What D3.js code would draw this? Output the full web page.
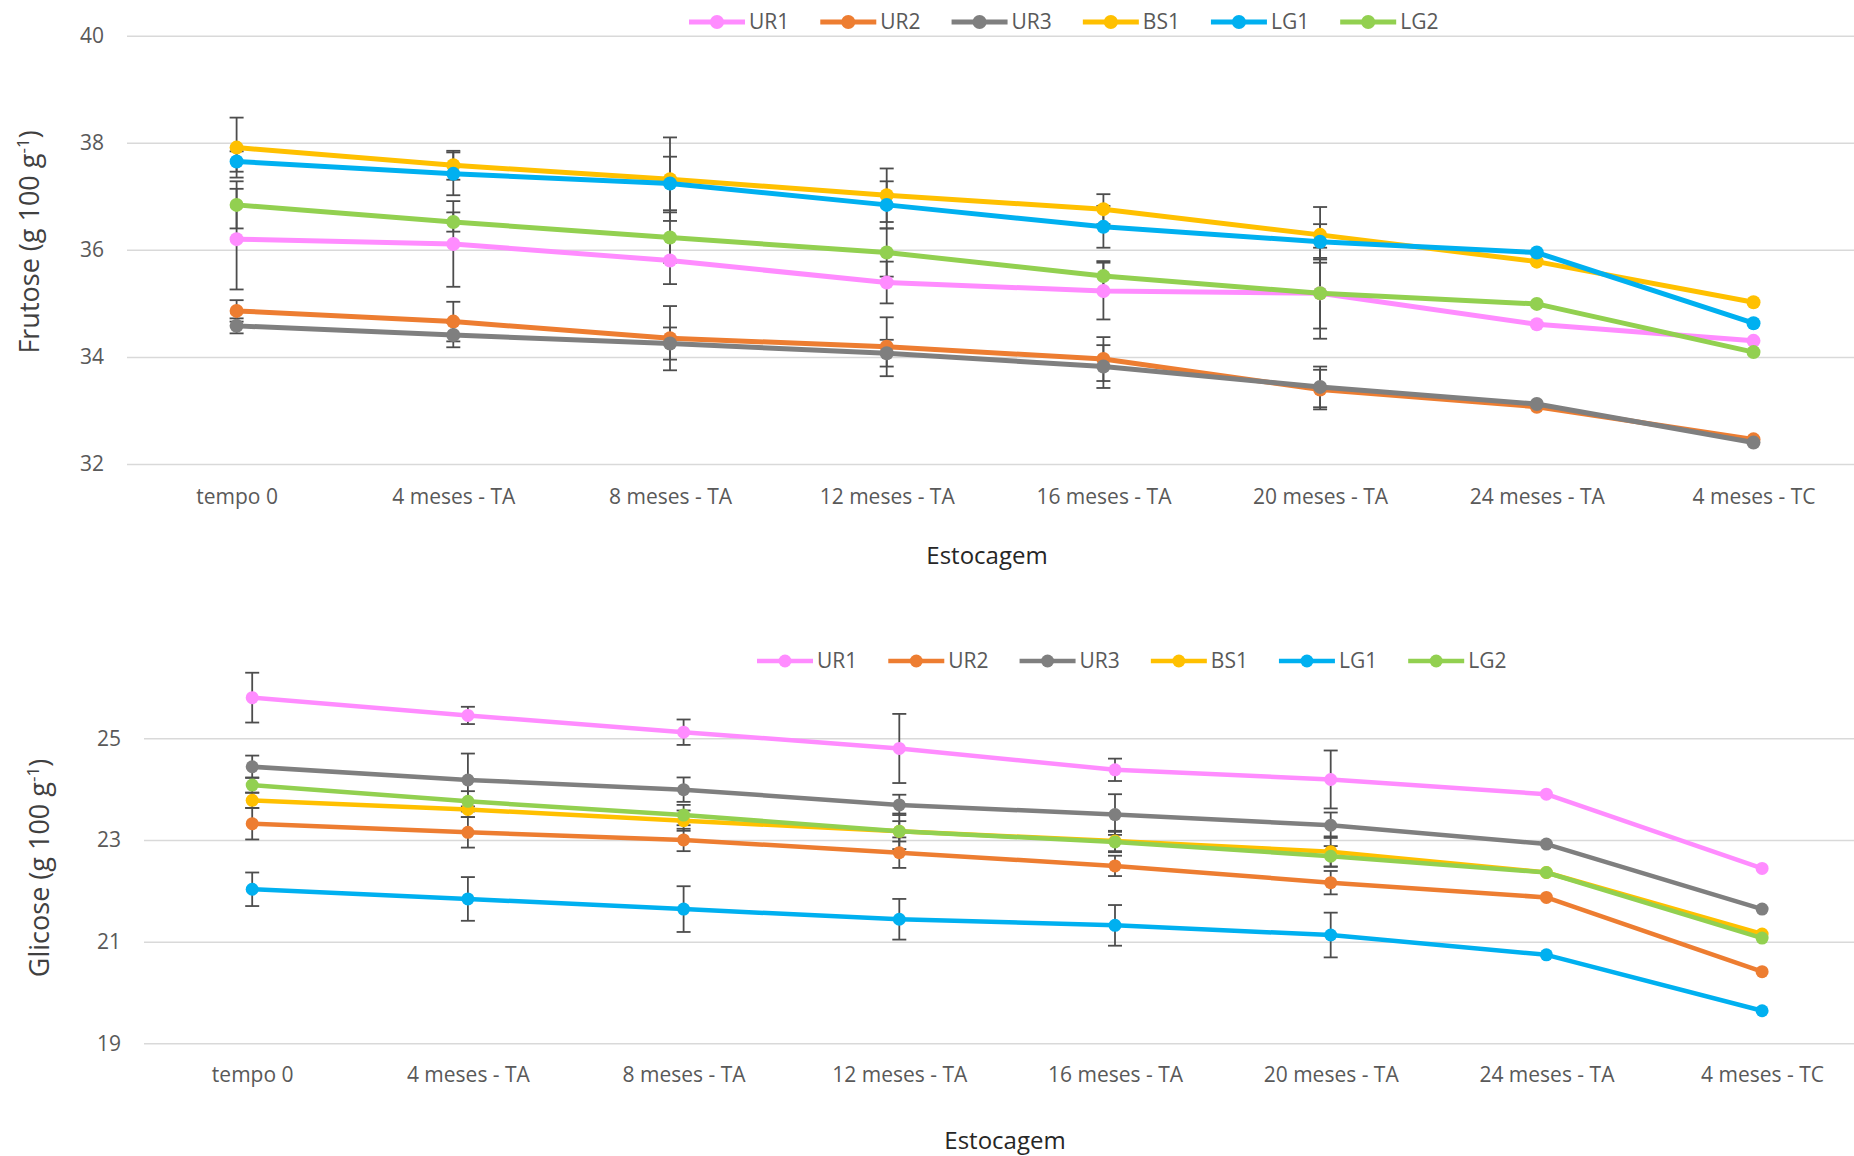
<!DOCTYPE html>
<html>
<head>
<meta charset="utf-8">
<script src="https://cdn.jsdelivr.net/npm/d3@7"></script>
<style>
  body { margin: 0; background: #fff; }
  text { font-family: "Open Sans", "Liberation Sans", sans-serif; }
</style>
</head>
<body>
<div id="canvas"></div>
<script>
const categories = ["tempo 0", "4 meses - TA", "8 meses - TA", "12 meses - TA", "16 meses - TA", "20 meses - TA", "24 meses - TA", "4 meses - TC"];
const seriesNames = ["UR1", "UR2", "UR3", "BS1", "LG1", "LG2"];

// Frutose (g 100 g-1)
const frutoseUR1 = [36.20, 36.11, 35.80, 35.39, 35.23, 35.19, 34.61, 34.30];
const frutoseUR2 = [34.86, 34.66, 34.35, 34.19, 33.96, 33.39, 33.07, 32.46];
const frutoseUR3 = [34.58, 34.41, 34.25, 34.07, 33.82, 33.44, 33.12, 32.40];
const frutoseBS1 = [37.91, 37.58, 37.32, 37.02, 36.76, 36.28, 35.78, 35.02];
const frutoseLG1 = [37.65, 37.42, 37.24, 36.84, 36.43, 36.15, 35.95, 34.63];
const frutoseLG2 = [36.84, 36.52, 36.23, 35.95, 35.51, 35.19, 34.99, 34.09];

const frutoseErrUR1 = [0.94, 0.80, 0.44, 0.39, 0.53, 0.85, null, null];
const frutoseErrUR2 = [0.20, 0.37, 0.60, 0.55, 0.41, 0.37, null, null];
const frutoseErrUR3 = [0.14, 0.23, 0.30, 0.25, 0.40, 0.38, null, null];
const frutoseErrBS1 = [0.56, 0.27, 0.78, 0.50, 0.28, 0.52, null, null];
const frutoseErrLG1 = [0.19, 0.40, 0.50, 0.44, 0.39, 0.33, null, null];
const frutoseErrLG2 = [0.44, 0.18, 0.47, 0.45, 0.28, 0.66, null, null];

const frutoseTicks = [32, 34, 36, 38, 40];

// Glicose (g 100 g-1)
const glicoseUR1 = [25.80, 25.45, 25.12, 24.80, 24.38, 24.19, 23.90, 22.44];
const glicoseUR2 = [23.32, 23.15, 23.00, 22.75, 22.49, 22.16, 21.87, 20.41];
const glicoseUR3 = [24.44, 24.18, 23.99, 23.69, 23.50, 23.29, 22.92, 21.64];
const glicoseBS1 = [23.78, 23.60, 23.38, 23.17, 22.98, 22.77, 22.36, 21.15];
const glicoseLG1 = [22.03, 21.84, 21.64, 21.44, 21.32, 21.13, 20.74, 19.64];
const glicoseLG2 = [24.08, 23.76, 23.49, 23.17, 22.96, 22.68, 22.36, 21.07];

const glicoseErrUR1 = [0.49, 0.17, 0.25, 0.68, 0.22, 0.57, null, null];
const glicoseErrUR2 = [0.31, 0.30, 0.22, 0.30, 0.20, 0.23, null, null];
const glicoseErrUR3 = [0.22, 0.52, 0.24, 0.20, 0.40, 0.25, null, null];
const glicoseErrBS1 = [0.15, 0.15, 0.20, 0.20, 0.20, 0.30, null, null];
const glicoseErrLG1 = [0.33, 0.43, 0.45, 0.40, 0.40, 0.44, null, null];
const glicoseErrLG2 = [0.15, 0.20, 0.20, 0.35, 0.20, 0.20, null, null];

const glicoseTicks = [19, 21, 23, 25];

const colors = ["#ff8cff", "#ed7d31", "#7f7f7f", "#ffc000", "#00b0f0", "#92d050"];

const width = 1854;
const height = 1156;

const svg = d3.select("#canvas").append("svg")
  .attr("width", width)
  .attr("height", height)
  .style("display", "block");

svg.append("rect").attr("width", width).attr("height", height).attr("fill", "#fff");

function drawChart(opt) {
  const x = d3.scalePoint().domain(categories).range(opt.xRange);
  const y = d3.scaleLinear().domain(opt.yDomain).range(opt.yRange);
  const g = svg.append("g");

  // gridlines + y tick labels
  const yAxis = g.append("g")
    .attr("transform", `translate(${opt.gridLeft},0)`)
    .call(d3.axisLeft(y).tickValues(opt.ticks).tickFormat(d3.format("d"))
      .tickSize(-(width - opt.gridLeft)).tickPadding(opt.tickPad));
  yAxis.select(".domain").remove();
  yAxis.selectAll(".tick line").attr("stroke", "#d9d9d9").attr("stroke-width", 1.5);
  yAxis.selectAll(".tick text")
    .attr("fill", "#595959")
    .style("font-size", "21px");

  // category labels
  const xAxis = g.append("g")
    .attr("transform", `translate(0,${opt.catY})`)
    .call(d3.axisBottom(x).tickSize(0).tickPadding(0));
  xAxis.select(".domain").remove();
  xAxis.selectAll(".tick text")
    .attr("fill", "#595959")
    .attr("dy", "0.35em")
    .style("font-size", "21px");

  const series = seriesNames.map((name, i) => ({
    name: name,
    color: colors[i],
    values: opt.values[i].map((v, j) => ({ cat: categories[j], v: v, e: opt.errors[i][j] }))
  }));

  // error bars
  const eb = g.append("g").attr("stroke", "#4d4d4d").attr("stroke-width", 1.8);
  series.forEach(s => {
    s.values.filter(d => d.e != null).forEach(d => {
      const cx = x(d.cat);
      const y0 = y(d.v - d.e), y1 = y(d.v + d.e);
      eb.append("line").attr("x1", cx).attr("x2", cx).attr("y1", y0).attr("y2", y1);
      eb.append("line").attr("x1", cx - 7).attr("x2", cx + 7).attr("y1", y0).attr("y2", y0);
      eb.append("line").attr("x1", cx - 7).attr("x2", cx + 7).attr("y1", y1).attr("y2", y1);
    });
  });

  const line = d3.line().x(d => x(d.cat)).y(d => y(d.v));
  series.forEach(s => {
    g.append("path")
      .datum(s.values)
      .attr("fill", "none")
      .attr("stroke", s.color)
      .attr("stroke-width", opt.lineWidth)
      .attr("stroke-linejoin", "round")
      .attr("d", line);
    g.selectAll(null).data(s.values).enter().append("circle")
      .attr("cx", d => x(d.cat))
      .attr("cy", d => y(d.v))
      .attr("r", opt.markerR)
      .attr("fill", s.color);
  });

  // legend
  const leg = g.append("g").attr("transform", `translate(${opt.legendX},${opt.legendY})`);
  let lx = 0;
  seriesNames.forEach((name, i) => {
    const item = leg.append("g").attr("transform", `translate(${lx},0)`);
    item.append("line").attr("x1", 0).attr("x2", 56).attr("y1", 0).attr("y2", 0)
      .attr("stroke", colors[i]).attr("stroke-width", opt.lineWidth);
    item.append("circle").attr("cx", 28).attr("cy", 0).attr("r", opt.markerR).attr("fill", colors[i]);
    const t = item.append("text").attr("x", 60).attr("y", 0).attr("dy", "0.35em")
      .attr("fill", "#595959").style("font-size", "21px").text(name);
    lx += 60 + t.node().getComputedTextLength() + 31;
  });

  // axis titles
  g.append("text")
    .attr("x", opt.xTitle[0]).attr("y", opt.xTitle[1])
    .attr("text-anchor", "middle").attr("dy", "0.35em")
    .attr("fill", "#262626").style("font-size", "24px")
    .text("Estocagem");

  const yt = g.append("text")
    .attr("transform", `translate(${opt.yTitle[0]},${opt.yTitle[1]}) rotate(-90)`)
    .attr("text-anchor", "middle").attr("dy", "0.35em")
    .attr("fill", "#404040").style("font-size", "27px");
  yt.append("tspan").text(opt.yLabel + " (g 100 g");
  yt.append("tspan").attr("dy", -10).style("font-size", "17px").text("-1");
  yt.append("tspan").attr("dy", 10).text(")");
}

drawChart({
  values: [frutoseUR1, frutoseUR2, frutoseUR3, frutoseBS1, frutoseLG1, frutoseLG2],
  errors: [frutoseErrUR1, frutoseErrUR2, frutoseErrUR3, frutoseErrBS1, frutoseErrLG1, frutoseErrLG2],
  ticks: frutoseTicks,
  yDomain: [32, 40],
  yRange: [464, 35.7],
  xRange: [236.6, 1753.5],
  gridLeft: 127,
  tickPad: 23,
  catY: 497,
  lineWidth: 5,
  markerR: 7,
  legendX: 689,
  legendY: 22,
  xTitle: [987, 556],
  yTitle: [30, 242],
  yLabel: "Frutose"
});

drawChart({
  values: [glicoseUR1, glicoseUR2, glicoseUR3, glicoseBS1, glicoseLG1, glicoseLG2],
  errors: [glicoseErrUR1, glicoseErrUR2, glicoseErrUR3, glicoseErrBS1, glicoseErrLG1, glicoseErrLG2],
  ticks: glicoseTicks,
  yDomain: [19, 25],
  yRange: [1043.3, 738.3],
  xRange: [252.2, 1762.1],
  gridLeft: 144,
  tickPad: 23,
  catY: 1074.5,
  lineWidth: 4.5,
  markerR: 6.5,
  legendX: 757,
  legendY: 661,
  xTitle: [1005, 1141],
  yTitle: [40, 868],
  yLabel: "Glicose"
});
</script>
</body>
</html>
